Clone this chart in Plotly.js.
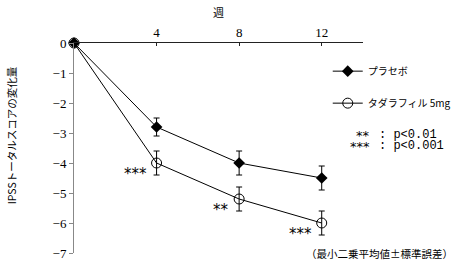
<!DOCTYPE html>
<html><head><meta charset="utf-8">
<script src="https://cdn.plot.ly/plotly-3.0.1.min.js"></script>
<style>html,body{margin:0;padding:0;background:#fff;}#c{width:457px;height:264px;}</style>
</head><body><div id="c"></div>
<script>
var weeks = [0, 4, 8, 12];
var placebo = [0, -2.8, -4.0, -4.5];
var placeboSE = [0, 0.3, 0.4, 0.4];
var tadalafil = [0, -4.0, -5.2, -6.0];
var tadalafilSE = [0, 0.4, 0.4, 0.4];
var seriesNames = ['プラセボ', 'タダラフィル 5mg'];
var sigLabels = ['', '***', '**', '***'];
var pLegendStars = ['**', '***'];
var pLegendText = [': p<0.01', ': p<0.001'];
var xTicks = [4, 8, 12];
var yTicks = [0, -1, -2, -3, -4, -5, -6, -7];

var FONT = 'Liberation Serif, "Noto Sans CJK JP", serif';
var JFONT = '"Noto Sans CJK JP", sans-serif';
var STAR = '"DejaVu Sans", sans-serif';
var MONO = '"Liberation Mono", monospace';

var traces = [
  {x: weeks, y: placebo, name: seriesNames[0], type: 'scatter', mode: 'lines+markers',
   legendgroup: 'a', cliponaxis: false,
   line: {color: '#000', width: 1},
   marker: {symbol: 'diamond', size: 9, color: '#000'},
   error_y: {type: 'data', array: placeboSE, visible: true, color: '#000', thickness: 1, width: 3}},
  {x: weeks, y: tadalafil, name: seriesNames[1], type: 'scatter', mode: 'lines+markers',
   legendgroup: 'b', cliponaxis: false,
   line: {color: '#000', width: 1},
   marker: {symbol: 'circle-open', size: 10, color: '#000', line: {width: 1, color: '#000'}},
   error_y: {type: 'data', array: tadalafilSE, visible: true, color: '#000', thickness: 1, width: 3}}
];

var annotations = [];
for (var i = 1; i < weeks.length; i++) {
  annotations.push({x: weeks[i], y: tadalafil[i] - 0.36, xref: 'x', yref: 'y', text: sigLabels[i],
    showarrow: false, xanchor: 'right', yanchor: 'middle', xshift: -8, font: {family: STAR, size: 15, color: '#000'}});
}
var pY = [0.562, 0.51];
for (var j = 0; j < 2; j++) {
  annotations.push({xref: 'paper', yref: 'paper', x: 1.031, y: pY[j] - 0.004, xanchor: 'right', yanchor: 'middle', showarrow: false,
    text: pLegendStars[j], font: {family: STAR, size: 13, color: '#000'}});
  annotations.push({xref: 'paper', yref: 'paper', x: 1.05, y: pY[j], xanchor: 'left', yanchor: 'middle', showarrow: false,
    text: pLegendText[j].replace('<', '&lt;'), font: {family: MONO, size: 12, color: '#000'}});
}
annotations.push({xref: 'paper', yref: 'paper', x: 1.318, y: 0.0, xanchor: 'right', yanchor: 'middle', showarrow: false,
  text: '（最小二乗平均値±標準誤差）', font: {family: JFONT, size: 10.5, color: '#000'}});
annotations.push({xref: 'paper', yref: 'paper', x: -0.215, y: 0.56, xanchor: 'center', yanchor: 'middle', showarrow: false,
  textangle: -90, text: 'IPSSトータルスコアの変化量', font: {family: JFONT, size: 10.5, color: '#000'}});

var layout = {
  width: 457, height: 264,
  margin: {l: 74, r: 94, t: 43, b: 11, autoexpand: false},
  paper_bgcolor: '#fff', plot_bgcolor: '#fff',
  showlegend: true,
  legend: {x: 0.878, y: 0.935, xanchor: 'left', yanchor: 'top', bgcolor: 'rgba(0,0,0,0)',
    traceorder: 'grouped', tracegroupgap: 13, itemwidth: 30,
    font: {family: JFONT, size: 10, color: '#000'}},
  xaxis: {range: [0, 14], side: 'top', tickvals: xTicks, ticktext: xTicks.map(String),
    showgrid: false, zeroline: false, showline: true, linecolor: '#222', linewidth: 1,
    ticks: 'inside', ticklen: 3, tickcolor: '#222',
    tickfont: {family: FONT, size: 13, color: '#000'},
    title: {text: '週', font: {family: JFONT, size: 11, color: '#000'}, standoff: 4}},
  yaxis: {range: [-7, 0], tickvals: yTicks, ticktext: yTicks.map(function(v){return v === 0 ? '0' : '−' + Math.abs(v);}),
    showgrid: false, zeroline: false, showline: true, linecolor: '#888', linewidth: 1,
    ticks: 'outside', ticklen: 4, tickcolor: '#888',
    tickfont: {family: FONT, size: 13, color: '#000'}},
  annotations: annotations
};

Plotly.newPlot('c', traces, layout, {displayModeBar: false, staticPlot: true});
</script>
</body></html>
